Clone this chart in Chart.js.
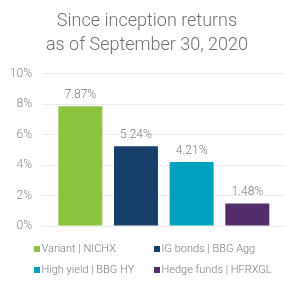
<!DOCTYPE html>
<html>
<head>
<meta charset="utf-8">
<script src="https://cdn.jsdelivr.net/npm/chart.js@4/dist/chart.umd.min.js"></script>
<style>
  html, body { margin: 0; padding: 0; background: #ffffff; }
  #wrap { width: 300px; height: 287px; position: relative; }
</style>
</head>
<body>
<div id="wrap"><canvas id="c" width="300" height="287"></canvas></div>
<script>
// ---- data ----
const titleLines = ["Since inception returns", "as of September 30, 2020"];
const categories = ["Variant | NICHX", "IG bonds | BBG Agg", "High yield | BBG HY", "Hedge funds | HFRXGL"];
const returnsPct = [7.87, 5.24, 4.21, 1.48];
const yTicks = [0, 2, 4, 6, 8, 10];
const barColors = ["#8cc43f", "#163f69", "#00a1bf", "#552d6a"];

const FONT = "Roboto, 'Liberation Sans', sans-serif";

const valueLabels = {
  id: 'valueLabels',
  afterDatasetsDraw(chart) {
    const ctx = chart.ctx;
    const meta = chart.getDatasetMeta(0);
    ctx.save();
    ctx.font = "300 12px " + FONT;
    ctx.fillStyle = "#7a7a7a";
    ctx.textAlign = "center";
    ctx.textBaseline = "alphabetic";
    meta.data.forEach((bar, i) => {
      ctx.fillText(returnsPct[i].toFixed(2) + "%", bar.x, bar.y - 8);
    });
    ctx.restore();
  }
};

const gridLegend = {
  id: 'gridLegend',
  afterDraw(chart) {
    const ctx = chart.ctx;
    const colX = [34, 154];
    const rowY = [249, 270];
    ctx.save();
    ctx.font = "300 11px " + FONT;
    ctx.textBaseline = "middle";
    ctx.textAlign = "left";
    categories.forEach((name, i) => {
      const x = colX[i % 2], y = rowY[Math.floor(i / 2)];
      ctx.fillStyle = barColors[i];
      ctx.fillRect(x, y - 3, 6, 6);
      ctx.fillStyle = "#7a7a7a";
      ctx.fillText(name, x + 7.5, y + 0.5);
    });
    ctx.restore();
  }
};

new Chart(document.getElementById('c'), {
  type: 'bar',
  data: {
    labels: categories,
    datasets: [{
      data: returnsPct.map((v, i) => ({ x: i, y: v })),
      backgroundColor: barColors,
      borderWidth: 0,
      categoryPercentage: 1,
      barPercentage: 0.79
    }]
  },
  options: {
    responsive: false,
    animation: false,
    devicePixelRatio: 1,
    layout: { padding: { left: 9, right: 15, top: 0, bottom: 61 } },
    plugins: {
      legend: { display: false },
      tooltip: { enabled: false },
      title: {
        display: true,
        text: titleLines,
        color: "#707070",
        font: { family: FONT, size: 18, weight: 300, lineHeight: 1.3 },
        padding: { top: 10, bottom: 17 }
      }
    },
    scales: {
      x: {
        type: 'linear',
        min: -0.688,
        max: 3.677,
        offset: false,
        grid: { offset: false },
        display: false
      },
      y: {
        min: 0,
        max: 10,
        afterBuildTicks(scale) { scale.ticks = yTicks.map(v => ({ value: v })); },
        afterFit(scale) { scale.width = 33; },
        ticks: {
          padding: 10,
          color: "#888888",
          font: { family: FONT, size: 12, weight: 300 },
          callback: v => v + "%"
        },
        grid: { color: "#ececec", drawTicks: false, lineWidth: 1 },
        border: { display: false }
      }
    }
  },
  plugins: [valueLabels, gridLegend]
});
</script>
</body>
</html>
